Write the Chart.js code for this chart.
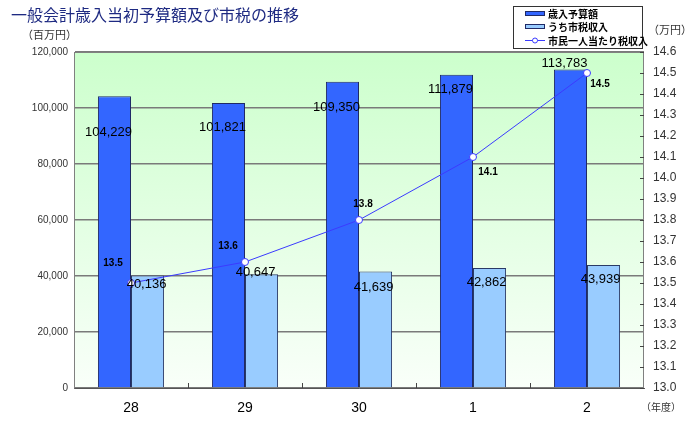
<!DOCTYPE html>
<html lang="ja">
<head>
<meta charset="UTF-8">
<title>一般会計歳入当初予算額及び市税の推移</title>
<script src="https://cdn.jsdelivr.net/npm/chart.js"></script>
<style>
  html, body { margin: 0; padding: 0; background: #ffffff; }
  .wrap { position: relative; width: 700px; height: 424px; }
</style>
</head>
<body>
<div class="wrap"><canvas id="budgetChart" width="700" height="424"></canvas></div>
<script>
// データ（年度、百万円 / 万円）
const years = ['28', '29', '30', '1', '2'];
const budget = [104229, 101821, 109350, 111879, 113783];   // 歳入予算額
const cityTax = [40136, 40647, 41639, 42862, 43939];        // うち市税収入
const perCapita = [13.5, 13.6, 13.8, 14.1, 14.5];           // 市民一人当たり税収入

const JP = '"Noto Sans CJK JP", sans-serif';
const NUM = '"Liberation Sans", Arial, sans-serif';
const DARK = '#3366ff';
const LIGHT = '#99ccff';
const LINE = '#3b3bff';

// ラベル位置の微調整（描画用）
const budgetLabelDy = [36, 25, 26, 15, -6];
const taxLabelDx = [-1, -6, -2, -3, -3];
const taxLabelDy = [9, -2, 16, 14, 14];
const lineLabelOff = [[-18, -20], [-17, -16], [4, -16], [15, 15], [13, 11]];

const decor = {
  id: 'decor',
  beforeDraw(chart) {
    const { ctx, chartArea: a } = chart;
    const g = ctx.createLinearGradient(0, a.top, 0, a.bottom);
    g.addColorStop(0, '#ccffcc');
    g.addColorStop(1, '#f9fff9');
    ctx.save();
    ctx.fillStyle = g;
    ctx.fillRect(a.left, a.top, a.right - a.left, a.bottom - a.top);
    ctx.restore();
  },
  afterDatasetsDraw(chart) {
    const { ctx, chartArea: a } = chart;
    ctx.save();
    // 枠線・目盛り
    ctx.strokeStyle = '#808080';
    ctx.lineWidth = 1;
    ctx.beginPath();
    ctx.moveTo(a.left, a.top + 0.5); ctx.lineTo(a.right, a.top + 0.5);
    ctx.moveTo(a.right - 0.5, a.top); ctx.lineTo(a.right - 0.5, a.bottom);
    ctx.stroke();
    ctx.strokeStyle = '#444';
    ctx.beginPath();
    const y1 = chart.scales.y1;
    y1.ticks.forEach(t => {
      const py = Math.round(y1.getPixelForValue(t.value)) + 0.5;
      ctx.moveTo(a.right - 4, py); ctx.lineTo(a.right, py);
    });
    const xs = chart.scales.x;
    for (let i = 1; i < years.length; i++) {
      const px = Math.round((xs.getPixelForValue(i - 1) + xs.getPixelForValue(i)) / 2) + 0.5;
      ctx.moveTo(px, a.bottom - 5); ctx.lineTo(px, a.bottom);
    }
    ctx.stroke();

    // データラベル
    ctx.fillStyle = '#000';
    ctx.textAlign = 'center';
    ctx.textBaseline = 'middle';
    ctx.font = '13px ' + NUM;
    chart.getDatasetMeta(0).data.forEach((el, i) => {
      ctx.fillText(budget[i].toLocaleString('en-US'), el.x - 6, el.y + budgetLabelDy[i]);
    });
    chart.getDatasetMeta(1).data.forEach((el, i) => {
      ctx.fillText(cityTax[i].toLocaleString('en-US'), el.x + taxLabelDx[i], el.y + taxLabelDy[i]);
    });
    ctx.font = 'bold 10px ' + NUM;
    chart.getDatasetMeta(2).data.forEach((el, i) => {
      ctx.fillText(perCapita[i].toFixed(1), el.x + lineLabelOff[i][0], el.y + lineLabelOff[i][1]);
    });
    ctx.restore();
  },
  afterDraw(chart) {
    const { ctx } = chart;
    ctx.save();
    // タイトル
    ctx.fillStyle = '#1e2a82';
    ctx.font = '16px ' + JP;
    ctx.textBaseline = 'middle';
    ctx.fillText('一般会計歳入当初予算額及び市税の推移', 11, 15);
    // 単位
    ctx.fillStyle = '#333';
    ctx.font = '11px ' + JP;
    ctx.fillText('（百万円）', 22, 35);
    ctx.fillText('（万円）', 648, 30);
    ctx.font = '10px ' + JP;
    ctx.fillText('（年度）', 641, 407);

    // 凡例
    ctx.fillStyle = '#fff';
    ctx.fillRect(513, 6, 129, 42);
    ctx.strokeStyle = '#333';
    ctx.lineWidth = 1;
    ctx.strokeRect(513.5, 6.5, 129, 42);
    const items = [
      { label: '歳入予算額', y: 13, type: DARK },
      { label: 'うち市税収入', y: 26, type: LIGHT },
      { label: '市民一人当たり税収入', y: 40, type: 'line' }
    ];
    ctx.font = 'bold 10px ' + JP;
    items.forEach(it => {
      if (it.type === 'line') {
        ctx.strokeStyle = LINE;
        ctx.beginPath();
        ctx.moveTo(525, it.y + 0.5); ctx.lineTo(545, it.y + 0.5);
        ctx.stroke();
        ctx.beginPath();
        ctx.arc(535, it.y + 0.5, 2.5, 0, Math.PI * 2);
        ctx.fillStyle = '#fff';
        ctx.fill();
        ctx.stroke();
      } else {
        ctx.fillStyle = it.type;
        ctx.fillRect(525, it.y - 2, 20, 4);
        ctx.strokeStyle = '#1f2a66';
        ctx.strokeRect(525.5, it.y - 1.5, 19, 4);
      }
      ctx.fillStyle = '#000';
      ctx.fillText(it.label, 548, it.y + 1);
    });
    ctx.restore();
  }
};

new Chart(document.getElementById('budgetChart'), {
  type: 'bar',
  data: {
    labels: years,
    datasets: [
      {
        label: '歳入予算額',
        data: budget,
        yAxisID: 'y',
        backgroundColor: DARK,
        borderColor: '#1f2a66',
        borderWidth: 1,
        categoryPercentage: 0.58,
        barPercentage: 1,
        order: 1
      },
      {
        label: 'うち市税収入',
        data: cityTax,
        yAxisID: 'y',
        backgroundColor: LIGHT,
        borderColor: '#2a3a66',
        borderWidth: 1,
        categoryPercentage: 0.58,
        barPercentage: 1,
        order: 1
      },
      {
        type: 'line',
        label: '市民一人当たり税収入',
        data: perCapita,
        yAxisID: 'y1',
        borderColor: LINE,
        borderWidth: 1,
        pointRadius: 3.5,
        pointBackgroundColor: '#fff',
        pointBorderColor: LINE,
        pointBorderWidth: 1,
        tension: 0,
        order: 0
      }
    ]
  },
  options: {
    responsive: false,
    animation: false,
    devicePixelRatio: 1,
    layout: { padding: { top: 52, left: 0, right: 0, bottom: 0 } },
    plugins: {
      legend: { display: false },
      title: { display: false },
      tooltip: { enabled: false }
    },
    scales: {
      x: {
        grid: { display: false, drawTicks: false },
        border: { display: true, color: '#555', width: 1 },
        ticks: { color: '#000', font: { family: NUM, size: 14 }, padding: 12 },
        afterFit: s => { s.height = 36; }
      },
      y: {
        position: 'left',
        min: 0,
        max: 120000,
        ticks: {
          stepSize: 20000,
          color: '#333',
          font: { family: NUM, size: 10 },
          padding: 6,
          callback: v => v.toLocaleString('en-US')
        },
        grid: { color: '#7a7a7a', lineWidth: 1.5, drawTicks: false },
        border: { display: true, color: '#808080', width: 1 },
        afterFit: s => { s.width = 74; }
      },
      y1: {
        position: 'right',
        min: 13.0,
        max: 14.6,
        ticks: {
          stepSize: 0.1,
          color: '#333',
          font: { family: NUM, size: 12 },
          padding: 9,
          callback: v => Number(v).toFixed(1)
        },
        grid: { display: false, drawTicks: false },
        border: { display: false },
        afterFit: s => { s.width = 56; }
      }
    }
  },
  plugins: [decor]
});
</script>
</body>
</html>
